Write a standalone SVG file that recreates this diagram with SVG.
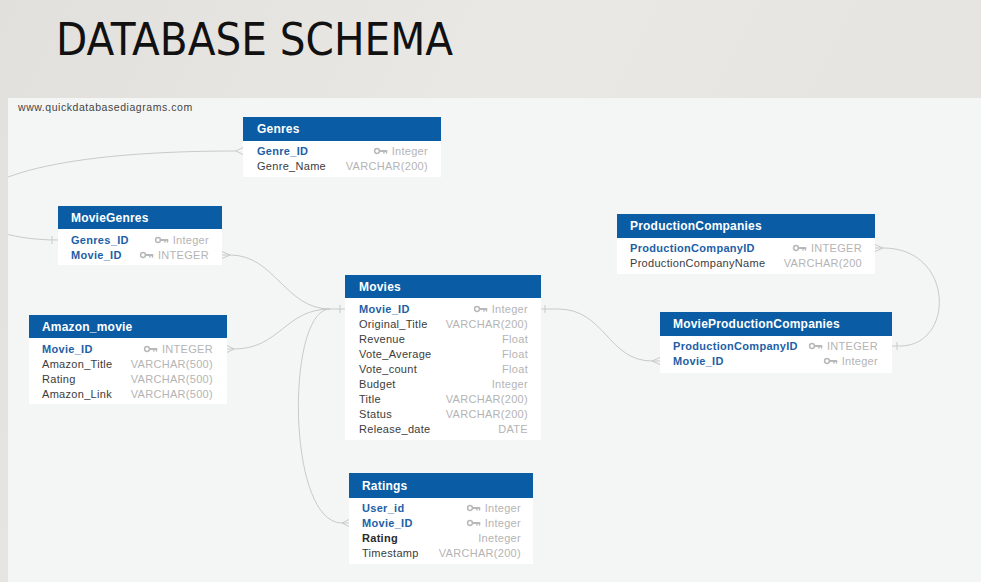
<svg xmlns="http://www.w3.org/2000/svg" width="981" height="582" viewBox="0 0 981 582">
  <defs>
    <linearGradient id="slideBg" x1="0" y1="0" x2="1" y2="0.3">
      <stop offset="0" stop-color="#e2e0dc"/>
      <stop offset="0.5" stop-color="#eae8e5"/>
      <stop offset="1" stop-color="#e6e4e1"/>
    </linearGradient>
    <clipPath id="panelClip">
      <rect x="8" y="98" width="973" height="484"/>
    </clipPath>
    <!-- primary key glyph, 14px wide, centred on the row axis -->
    <g id="key">
      <circle cx="3" cy="0" r="2.4" fill="none" stroke="#b8b8b8" stroke-width="1.5"/>
      <rect x="5.2" y="-1" width="8" height="2" fill="#b8b8b8"/>
      <rect x="9.2" y="0" width="1.4" height="2.6" fill="#b8b8b8"/>
      <rect x="11.8" y="0" width="1.4" height="2.6" fill="#b8b8b8"/>
    </g>
  </defs>
  <style>
    .title { font-family: "Liberation Sans Narrow", "DejaVu Sans Condensed", "Liberation Sans", sans-serif; font-size: 45px; fill: #111; }
    .site { font-family: "Liberation Sans", Arial, sans-serif; font-size: 10.5px; fill: #444; letter-spacing: 0.55px; }
    .hdr { fill: #0a5ca4; }
    .body { fill: #ffffff; }
    .hname { font-family: "Liberation Sans", Arial, sans-serif; font-size: 12px; font-weight: bold; fill: #ffffff; letter-spacing: 0.2px; }
    .fld { font-family: "Liberation Sans", Arial, sans-serif; font-size: 11px; fill: #3c3c3c; letter-spacing: 0.3px; }
    .pk { font-weight: bold; fill: #1d5fa6; }
    .strong { font-weight: bold; fill: #2a2a2a; }
    .typ { font-family: "Liberation Sans", Arial, sans-serif; font-size: 11px; fill: #b4b4b4; letter-spacing: 0.3px; text-anchor: end; }
    .link { fill: none; stroke: #c9c9c9; stroke-width: 1; }
  </style>

  <!-- slide background and title -->
  <rect x="0" y="0" width="981" height="582" fill="url(#slideBg)"/>
  <text class="title" x="56" y="55" textLength="397" lengthAdjust="spacingAndGlyphs">DATABASE SCHEMA</text>

  <!-- diagram canvas -->
  <rect x="8" y="98" width="973" height="484" fill="#f4f6f6"/>
  <text class="site" x="18" y="111">www.quickdatabasediagrams.com</text>

  <!-- relationships -->
  <g id="connectors" clip-path="url(#panelClip)">
    <!-- MovieGenres.Genres_ID - Genres.Genre_ID -->
    <path class="link" d="M236,151 C-90,151 -70,240 58,240"/>
    <path class="link" d="M236,151 L243,147.5 M236,151 L243,154.5"/>
    <path class="link" d="M52,236 L52,244"/>

    <!-- MovieGenres.Movie_ID - Movies.Movie_ID -->
    <path class="link" d="M222,255 L230,255 C275,255 285,309 330,309"/>
    <path class="link" d="M230,255 L222,251.5 M230,255 L222,258.5"/>

    <!-- Amazon_movie.Movie_ID - Movies.Movie_ID -->
    <path class="link" d="M227,349 L234,349 C280,349 285,309 330,309"/>
    <path class="link" d="M234,349 L227,345.5 M234,349 L227,352.5"/>

    <!-- Ratings.Movie_ID - Movies.Movie_ID -->
    <path class="link" d="M330,309 C286,309 286,523 342,523 L349,523"/>
    <path class="link" d="M342,523 L349,519.5 M342,523 L349,526.5"/>

    <!-- shared end at Movies.Movie_ID -->
    <path class="link" d="M330,309 L345,309"/>
    <path class="link" d="M340,305 L340,313"/>

    <!-- Movies.Movie_ID - MovieProductionCompanies.Movie_ID -->
    <path class="link" d="M541,309 L558,309 C605,309 608,361 652,361 L660,361"/>
    <path class="link" d="M545,305 L545,313"/>
    <path class="link" d="M652,361 L660,357.5 M652,361 L660,364.5"/>

    <!-- ProductionCompanies.ProductionCompanyID - MovieProductionCompanies.ProductionCompanyID -->
    <path class="link" d="M875,248 L883,248 C955,248 955,346 900,346 L892,346"/>
    <path class="link" d="M883,248 L875,244.5 M883,248 L875,251.5"/>
    <path class="link" d="M897,342 L897,350"/>
  </g>

  <!-- Genres -->
  <g id="genres">
    <rect class="body" x="243" y="117" width="198" height="60"/>
    <rect class="hdr" x="243" y="117" width="198" height="24"/>
    <text class="hname" x="257" y="133">Genres</text>
    <text class="fld pk" x="257" y="155">Genre_ID</text>
    <use href="#key" x="374" y="151"/>
    <text class="typ" x="428" y="155">Integer</text>
    <text class="fld" x="257" y="170">Genre_Name</text>
    <text class="typ" x="428" y="170">VARCHAR(200)</text>
  </g>

  <!-- MovieGenres -->
  <g id="moviegenres">
    <rect class="body" x="58" y="206" width="164" height="59"/>
    <rect class="hdr" x="58" y="206" width="164" height="23"/>
    <text class="hname" x="71" y="222">MovieGenres</text>
    <text class="fld pk" x="71" y="244">Genres_ID</text>
    <use href="#key" x="155" y="240"/>
    <text class="typ" x="209" y="244">Integer</text>
    <text class="fld pk" x="71" y="259">Movie_ID</text>
    <use href="#key" x="140" y="255"/>
    <text class="typ" x="209" y="259">INTEGER</text>
  </g>

  <!-- Amazon_movie -->
  <g id="amazon_movie">
    <rect class="body" x="29" y="315" width="198" height="89"/>
    <rect class="hdr" x="29" y="315" width="198" height="23"/>
    <text class="hname" x="42" y="331">Amazon_movie</text>
    <text class="fld pk" x="42" y="353">Movie_ID</text>
    <use href="#key" x="144" y="349"/>
    <text class="typ" x="213" y="353">INTEGER</text>
    <text class="fld" x="42" y="368">Amazon_Title</text>
    <text class="typ" x="213" y="368">VARCHAR(500)</text>
    <text class="fld" x="42" y="383">Rating</text>
    <text class="typ" x="213" y="383">VARCHAR(500)</text>
    <text class="fld" x="42" y="398">Amazon_Link</text>
    <text class="typ" x="213" y="398">VARCHAR(500)</text>
  </g>

  <!-- Movies -->
  <g id="movies">
    <rect class="body" x="345" y="275" width="196" height="165"/>
    <rect class="hdr" x="345" y="275" width="196" height="23"/>
    <text class="hname" x="359" y="291">Movies</text>
    <text class="fld pk" x="359" y="313">Movie_ID</text>
    <use href="#key" x="474" y="309"/>
    <text class="typ" x="528" y="313">Integer</text>
    <text class="fld" x="359" y="328">Original_Title</text>
    <text class="typ" x="528" y="328">VARCHAR(200)</text>
    <text class="fld" x="359" y="343">Revenue</text>
    <text class="typ" x="528" y="343">Float</text>
    <text class="fld" x="359" y="358">Vote_Average</text>
    <text class="typ" x="528" y="358">Float</text>
    <text class="fld" x="359" y="373">Vote_count</text>
    <text class="typ" x="528" y="373">Float</text>
    <text class="fld" x="359" y="388">Budget</text>
    <text class="typ" x="528" y="388">Integer</text>
    <text class="fld" x="359" y="403">Title</text>
    <text class="typ" x="528" y="403">VARCHAR(200)</text>
    <text class="fld" x="359" y="418">Status</text>
    <text class="typ" x="528" y="418">VARCHAR(200)</text>
    <text class="fld" x="359" y="433">Release_date</text>
    <text class="typ" x="528" y="433">DATE</text>
  </g>

  <!-- ProductionCompanies -->
  <g id="productioncompanies">
    <rect class="body" x="617" y="214" width="258" height="60"/>
    <rect class="hdr" x="617" y="214" width="258" height="24"/>
    <text class="hname" x="630" y="230">ProductionCompanies</text>
    <text class="fld pk" x="630" y="252">ProductionCompanyID</text>
    <use href="#key" x="793" y="248"/>
    <text class="typ" x="862" y="252">INTEGER</text>
    <text class="fld" x="630" y="267">ProductionCompanyName</text>
    <text class="typ" x="862" y="267">VARCHAR(200</text>
  </g>

  <!-- MovieProductionCompanies -->
  <g id="movieproductioncompanies">
    <rect class="body" x="660" y="312" width="232" height="61"/>
    <rect class="hdr" x="660" y="312" width="232" height="24"/>
    <text class="hname" x="673" y="328">MovieProductionCompanies</text>
    <text class="fld pk" x="673" y="350">ProductionCompanyID</text>
    <use href="#key" x="809" y="346"/>
    <text class="typ" x="878" y="350">INTEGER</text>
    <text class="fld pk" x="673" y="365">Movie_ID</text>
    <use href="#key" x="824" y="361"/>
    <text class="typ" x="878" y="365">Integer</text>
  </g>

  <!-- Ratings -->
  <g id="ratings">
    <rect class="body" x="349" y="473" width="184" height="91"/>
    <rect class="hdr" x="349" y="473" width="184" height="25"/>
    <text class="hname" x="362" y="490">Ratings</text>
    <text class="fld pk" x="362" y="512">User_id</text>
    <use href="#key" x="467" y="508"/>
    <text class="typ" x="521" y="512">Integer</text>
    <text class="fld pk" x="362" y="527">Movie_ID</text>
    <use href="#key" x="467" y="523"/>
    <text class="typ" x="521" y="527">Integer</text>
    <text class="fld strong" x="362" y="542">Rating</text>
    <text class="typ" x="521" y="542">Ineteger</text>
    <text class="fld" x="362" y="557">Timestamp</text>
    <text class="typ" x="521" y="557">VARCHAR(200)</text>
  </g>
</svg>
